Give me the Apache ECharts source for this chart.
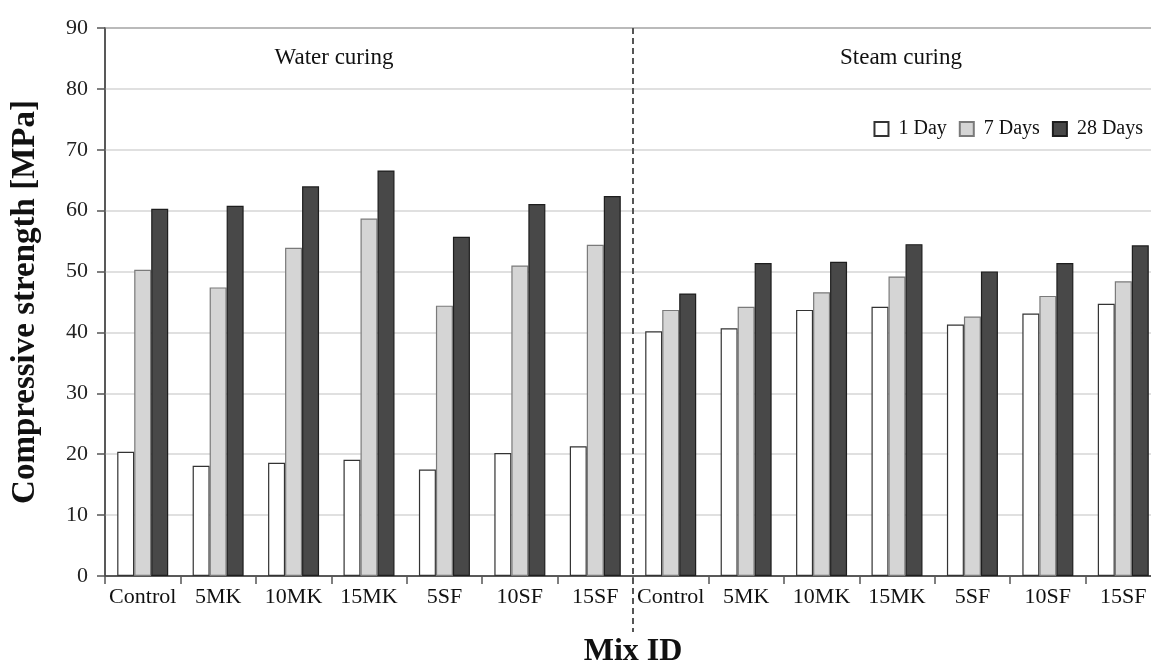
<!DOCTYPE html>
<html>
<head>
<meta charset="utf-8">
<script src="https://cdn.jsdelivr.net/npm/echarts@6/dist/echarts.min.js"></script>
<style>
  html, body { margin: 0; padding: 0; background: #ffffff; }
  #chart { width: 1151px; height: 665px; }
</style>
</head>
<body>
<div id="chart"></div>
<script>
// Mix IDs: first seven cured in water, last seven steam cured
const categories = ['Control', '5MK', '10MK', '15MK', '5SF', '10SF', '15SF',
                    'Control', '5MK', '10MK', '15MK', '5SF', '10SF', '15SF'];

// Compressive strength, MPa
const day1  = [20.4, 18.1, 18.6, 19.1, 17.5, 20.2, 21.3, 40.2, 40.7, 43.7, 44.2, 41.3, 43.1, 44.7];
const day7  = [50.3, 47.4, 53.9, 58.7, 44.4, 51.0, 54.4, 43.7, 44.2, 46.6, 49.2, 42.6, 46.0, 48.4];
const day28 = [60.3, 60.8, 64.0, 66.6, 55.7, 61.1, 62.4, 46.4, 51.4, 51.6, 54.5, 50.0, 51.4, 54.3];

const seriesNames = ['1 Day', '7 Days', '28 Days'];
const sectionLabels = ['Water curing', 'Steam curing'];

const yMin = 0, yMax = 90, yStep = 10;

const SERIF = '"Liberation Serif", "DejaVu Serif", serif';

const chart = echarts.init(document.getElementById('chart'), null, { renderer: 'canvas' });

const barStyles = [
  { color: '#ffffff', borderColor: '#333333', borderWidth: 1.2 },
  { color: '#d5d5d5', borderColor: '#7a7a7a', borderWidth: 1.2 },
  { color: '#484848', borderColor: '#1e1e1e', borderWidth: 1.2 }
];

const values = [day1, day7, day28];

const option = {
  animation: false,
  backgroundColor: '#ffffff',
  textStyle: { fontFamily: SERIF },
  grid: {
    left: 105,
    top: 28,
    width: 1056,
    bottom: 89,
    outerBoundsMode: 'none',
    containLabel: false,
    show: true,
    borderColor: '#3a3a3a',
    borderWidth: 1.5,
    backgroundColor: 'transparent'
  },
  legend: {
    right: 3,
    top: 114,
    itemWidth: 14,
    itemHeight: 14,
    itemGap: 12,
    icon: 'rect',
    textStyle: { fontFamily: SERIF, fontSize: 20, color: '#111111', padding: [0, 0, 0, 5] },
    data: seriesNames
  },
  xAxis: {
    type: 'category',
    data: categories,
    name: 'Mix ID',
    nameLocation: 'middle',
    nameGap: 60,
    nameTextStyle: { fontFamily: SERIF, fontSize: 32, fontWeight: 'bold', color: '#111111' },
    axisLine: { lineStyle: { color: '#3a3a3a', width: 1.5 } },
    axisTick: { show: true, length: 8, lineStyle: { color: '#555555', width: 1.5 } },
    axisLabel: { fontFamily: SERIF, fontSize: 22, color: '#111111', margin: 10, interval: 0 },
    splitLine: { show: false }
  },
  yAxis: {
    type: 'value',
    min: yMin,
    max: yMax,
    interval: yStep,
    name: 'Compressive strength [MPa]',
    nameLocation: 'middle',
    nameGap: 63,
    nameTextStyle: { fontFamily: SERIF, fontSize: 33, fontWeight: 'bold', color: '#111111' },
    axisLine: { show: true, lineStyle: { color: '#555555', width: 1.5 } },
    axisTick: { show: true, length: 8, lineStyle: { color: '#555555', width: 1.5 } },
    axisLabel: { fontFamily: SERIF, fontSize: 22, color: '#222222', margin: 17 },
    splitLine: { show: true, lineStyle: { color: '#d6d6d6', width: 1.5 } }
  },
  series: seriesNames.map((name, i) => ({
    name: name,
    type: 'bar',
    data: values[i],
    barWidth: 17,
    barGap: '0%',
    itemStyle: barStyles[i],
    emphasis: { disabled: true }
  }))
};

chart.setOption(option);

// Dashed divider between the water- and steam-cured groups, plus the group titles
function drawDecorations() {
  const half = categories.length / 2;
  const xLeft = chart.convertToPixel({ xAxisIndex: 0 }, half - 1);
  const xRight = chart.convertToPixel({ xAxisIndex: 0 }, half);
  const xDiv = (xLeft + xRight) / 2;
  const yTop = chart.convertToPixel({ yAxisIndex: 0 }, yMax);
  const yBottom = chart.convertToPixel({ yAxisIndex: 0 }, yMin);

  chart.setOption({
    graphic: [
      {
        type: 'line',
        shape: { x1: xDiv, y1: yTop, x2: xDiv, y2: yBottom + 56 },
        style: { stroke: '#555555', lineWidth: 2, lineDash: [6, 4] },
        z: 10
      },
      {
        type: 'text',
        x: 334,
        y: 58,
        style: {
          text: sectionLabels[0],
          font: '23px ' + SERIF,
          fill: '#111111',
          textAlign: 'center',
          textVerticalAlign: 'middle'
        }
      },
      {
        type: 'text',
        x: 901,
        y: 58,
        style: {
          text: sectionLabels[1],
          font: '23px ' + SERIF,
          fill: '#111111',
          textAlign: 'center',
          textVerticalAlign: 'middle'
        }
      }
    ]
  });
}

drawDecorations();
</script>
</body>
</html>
